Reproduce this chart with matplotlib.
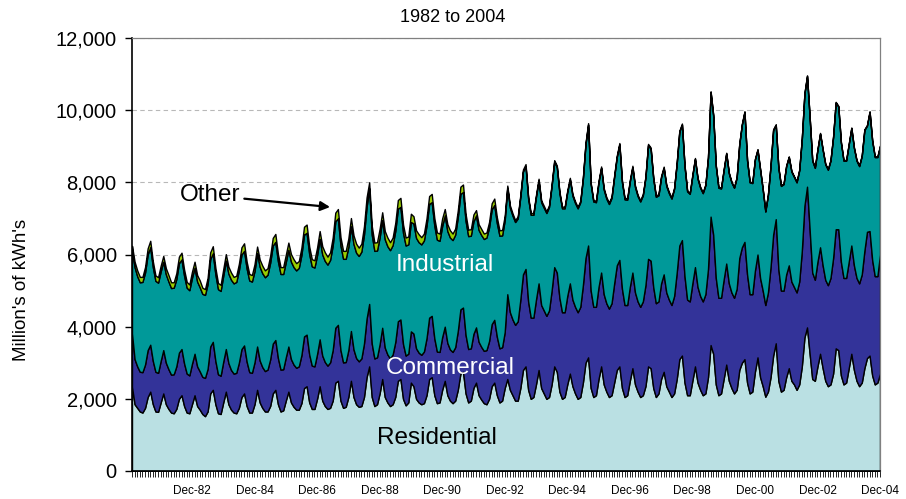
import numpy as np
import pandas as pd
import matplotlib
matplotlib.use("Agg")
import matplotlib.pyplot as plt
from matplotlib.ticker import FuncFormatter

plt.rcParams['font.family'] = ['Liberation Sans', 'DejaVu Sans']

# monthly sales, million kWh, Jan 1981 .. Dec 2004 (one row per year)
residential = [
    2330, 1850, 1750, 1650, 1620, 1750, 2050, 2200, 1850, 1650, 1640, 1900,
    2150, 1850, 1720, 1620, 1600, 1720, 2000, 2100, 1800, 1620, 1600, 1850,
    2100, 1800, 1700, 1580, 1520, 1650, 2150, 2250, 1850, 1600, 1580, 1900,
    2200, 1850, 1700, 1620, 1600, 1750, 2050, 2150, 1800, 1620, 1620, 1850,
    2250, 1900, 1750, 1650, 1650, 1800, 2150, 2250, 1850, 1650, 1680, 1950,
    2200, 1900, 1780, 1700, 1700, 1880, 2300, 2350, 1900, 1720, 1720, 2000,
    2350, 1950, 1800, 1720, 1750, 1950, 2450, 2500, 1950, 1750, 1780, 2050,
    2500, 2050, 1850, 1780, 1800, 2050, 2600, 2900, 2050, 1800, 1850, 2150,
    2550, 2050, 1900, 1800, 1850, 2050, 2500, 2550, 2000, 1820, 1900, 2450,
    2350, 2000, 1900, 1850, 1880, 2100, 2550, 2600, 2100, 1880, 1900, 2250,
    2500, 2100, 1950, 1880, 1950, 2250, 2700, 2750, 2150, 1900, 1950, 2300,
    2450, 2100, 1980, 1880, 1850, 2000, 2350, 2450, 2100, 1900, 1950, 2300,
    2550, 2250, 2100, 1950, 1950, 2300, 2800, 2900, 2250, 2000, 2050, 2400,
    2800, 2300, 2150, 2000, 2050, 2400, 2900, 2750, 2200, 2000, 2050, 2400,
    2700, 2350, 2150, 2000, 2050, 2450, 3000, 3150, 2300, 2050, 2100, 2550,
    2900, 2400, 2200, 2050, 2100, 2450, 2800, 2900, 2300, 2050, 2100, 2500,
    2850, 2400, 2200, 2050, 2100, 2350, 2900, 2850, 2300, 2050, 2150, 2550,
    2750, 2350, 2200, 2050, 2150, 2550, 3100, 3200, 2450, 2100, 2100, 2500,
    2900, 2450, 2250, 2100, 2150, 2600, 3490, 3250, 2400, 2100, 2150, 2550,
    2950, 2500, 2300, 2150, 2250, 2800, 3000, 3100, 2450, 2150, 2200, 2750,
    3150, 2600, 2350, 2060, 2200, 2600, 3200, 3540, 2500, 2200, 2250, 2600,
    2850, 2500, 2400, 2250, 2400, 2900, 3700, 3980, 3250, 2550, 2500, 2900,
    3250, 2850, 2500, 2350, 2400, 2700, 3400, 3350, 2650, 2400, 2450, 2850,
    3250, 2800, 2500, 2350, 2450, 2850, 3130, 3200, 2650, 2400, 2450, 2700,
]
commercial = [
    1480, 1250, 1150, 1100, 1120, 1200, 1300, 1300, 1200, 1100, 1080, 1150,
    1200, 1150, 1100, 1050, 1080, 1180, 1280, 1280, 1180, 1080, 1050, 1120,
    1150, 1100, 1060, 1030, 1060, 1180, 1300, 1330, 1200, 1080, 1060, 1130,
    1180, 1140, 1100, 1080, 1120, 1250, 1330, 1330, 1230, 1120, 1100, 1160,
    1200, 1160, 1130, 1120, 1160, 1290, 1380, 1380, 1280, 1160, 1140, 1200,
    1250, 1200, 1170, 1160, 1200, 1330, 1430, 1430, 1330, 1200, 1180, 1240,
    1300, 1250, 1220, 1200, 1260, 1400, 1520, 1550, 1400, 1260, 1240, 1300,
    1380, 1320, 1280, 1260, 1320, 1480, 1620, 1730, 1480, 1320, 1300, 1360,
    1420, 1370, 1330, 1320, 1380, 1520, 1650, 1650, 1520, 1380, 1350, 1420,
    1460, 1400, 1380, 1370, 1430, 1580, 1700, 1700, 1580, 1430, 1400, 1460,
    1500, 1450, 1420, 1420, 1480, 1630, 1780, 1780, 1620, 1480, 1450, 1500,
    1530, 1480, 1460, 1450, 1500, 1600, 1720, 1740, 1620, 1500, 1480, 1550,
    2350, 2150, 2100, 2100, 2200, 2450, 2650, 2700, 2450, 2250, 2200, 2350,
    2400, 2300, 2300, 2300, 2400, 2600, 2750, 2750, 2600, 2400, 2350, 2450,
    2500, 2400, 2400, 2400, 2500, 2700, 2900, 3100, 2700, 2500, 2450, 2550,
    2600, 2500, 2450, 2450, 2550, 2750, 2900, 2950, 2750, 2550, 2500, 2600,
    2650, 2550, 2500, 2500, 2600, 2800, 2980, 2980, 2800, 2600, 2550, 2650,
    2700, 2600, 2550, 2550, 2700, 2950, 3150, 3200, 2950, 2650, 2600, 2700,
    2750, 2650, 2600, 2600, 2750, 3000, 3560, 3300, 2950, 2700, 2650, 2750,
    2800, 2700, 2650, 2650, 2800, 3100, 3200, 3250, 3000, 2750, 2700, 2800,
    2850, 2750, 2650, 2540, 2750, 3050, 3350, 3440, 3100, 2800, 2750, 2850,
    2850, 2750, 2700, 2700, 2850, 3200, 3650, 3900, 3450, 2950, 2800, 2900,
    2950, 2850, 2800, 2800, 2950, 3200, 3300, 3350, 3150, 2950, 2900, 2950,
    3000, 2900, 2850, 2850, 3000, 3250, 3500, 3450, 3200, 3000, 2950, 3300,
]
industrial = [
    2300, 2550, 2500, 2480, 2500, 2550, 2650, 2700, 2600, 2520, 2500, 2480,
    2450, 2450, 2430, 2400, 2400, 2420, 2480, 2480, 2430, 2380, 2360, 2380,
    2380, 2350, 2330, 2300, 2300, 2350, 2420, 2450, 2400, 2360, 2350, 2380,
    2450, 2480, 2500, 2500, 2520, 2560, 2620, 2620, 2580, 2540, 2530, 2530,
    2580, 2600, 2600, 2600, 2630, 2680, 2720, 2720, 2680, 2650, 2640, 2640,
    2680, 2700, 2700, 2700, 2730, 2780, 2820, 2820, 2780, 2750, 2740, 2740,
    2780, 2800, 2800, 2800, 2840, 2900, 2950, 2950, 2900, 2870, 2860, 2860,
    2900, 2920, 2920, 2920, 2960, 3020, 3100, 3200, 3020, 2980, 2960, 2960,
    2980, 3000, 3000, 3000, 3030, 3080, 3120, 3120, 3080, 3050, 3030, 3030,
    3050, 3060, 3060, 3060, 3080, 3120, 3150, 3150, 3120, 3100, 3080, 3080,
    3080, 3100, 3100, 3100, 3120, 3160, 3200, 3200, 3160, 3130, 3120, 3120,
    3100, 3100, 3100, 3100, 3120, 3150, 3180, 3180, 3150, 3120, 3100, 3100,
    2950, 2900, 2880, 2850, 2850, 2850, 2850, 2850, 2850, 2850, 2850, 2850,
    2850, 2850, 2850, 2850, 2870, 2900, 2920, 2920, 2900, 2880, 2880, 2880,
    2880, 2880, 2880, 2880, 2900, 2950, 3150, 3350, 2950, 2920, 2900, 2900,
    2900, 2900, 2900, 2900, 2920, 2950, 3000, 3200, 2950, 2930, 2920, 2920,
    2920, 2920, 2920, 2920, 2940, 2980, 3150, 3100, 3000, 2950, 2940, 2940,
    2950, 2950, 2950, 2950, 2970, 3020, 3150, 3200, 3050, 3000, 2980, 2980,
    3000, 3000, 3000, 3000, 3020, 3080, 3450, 3300, 3100, 3050, 3030, 3030,
    3050, 3050, 3050, 3050, 3080, 3150, 3400, 3600, 3150, 3100, 3080, 3080,
    2900, 3000, 2800, 2590, 2700, 2800, 2900, 2610, 2800, 2900, 2950, 3000,
    3000, 3050, 3050, 3050, 3080, 3100, 3100, 3065, 3100, 3100, 3100, 3100,
    3150, 3200, 3200, 3200, 3250, 3350, 3510, 3400, 3300, 3250, 3250, 3250,
    3250, 3250, 3250, 3250, 3280, 3350, 2940, 3300, 3300, 3300, 3300, 3000,
]
other = [
    130, 150, 160, 150, 140, 150, 170, 180, 160, 150, 150, 160,
    160, 170, 180, 160, 150, 160, 180, 190, 170, 160, 160, 170,
    170, 180, 190, 170, 160, 170, 190, 200, 180, 170, 170, 180,
    180, 190, 200, 180, 170, 180, 200, 210, 190, 180, 180, 190,
    190, 200, 210, 190, 180, 190, 210, 220, 200, 190, 190, 200,
    200, 210, 220, 200, 190, 200, 220, 230, 210, 200, 200, 210,
    220, 230, 240, 220, 210, 220, 240, 260, 230, 220, 220, 230,
    230, 240, 250, 230, 220, 230, 260, 170, 240, 230, 230, 240,
    220, 230, 240, 220, 210, 220, 240, 250, 230, 220, 220, 230,
    200, 210, 220, 200, 190, 200, 220, 230, 210, 200, 200, 210,
    180, 190, 200, 180, 170, 180, 200, 210, 190, 180, 180, 190,
    150, 160, 170, 150, 140, 150, 170, 180, 160, 150, 150, 120,
    60, 60, 60, 55, 55, 55, 55, 55, 50, 50, 50, 50,
    50, 50, 50, 45, 45, 45, 45, 45, 45, 45, 45, 45,
    45, 45, 45, 40, 40, 40, 40, 40, 40, 40, 40, 40,
    40, 40, 40, 40, 40, 40, 40, 40, 40, 40, 40, 40,
    40, 40, 35, 35, 35, 35, 35, 35, 35, 35, 35, 35,
    35, 35, 35, 30, 30, 30, 30, 30, 30, 30, 30, 30,
    25, 25, 25, 25, 25, 25, 25, 25, 25, 25, 25, 25,
    20, 20, 20, 20, 20, 20, 20, 20, 20, 20, 20, 20,
    20, 20, 20, 20, 20, 20, 20, 20, 20, 20, 20, 20,
    20, 20, 20, 20, 20, 20, 20, 20, 20, 20, 20, 20,
    20, 20, 20, 20, 20, 20, 20, 20, 20, 20, 20, 20,
    20, 20, 20, 20, 20, 20, 20, 20, 20, 20, 20, 20,
]
series_names = ['Residential', 'Commercial', 'Industrial', 'Other']
colors = ['#BAE0E3', '#333399', '#009999', '#99CC00']

months = pd.date_range('1981-01-01', periods=len(residential), freq='MS')
x = np.arange(len(months))

fig = plt.figure(figsize=(9.06, 4.99), dpi=100)
ax = fig.add_axes([132 / 906, 28 / 499, 748 / 906, 433 / 499])

ax.yaxis.grid(True, ls=(0, (4, 3)), color='#b8b8b8', lw=0.8)
ax.set_axisbelow(True)

ax.stackplot(x, residential, commercial, industrial, other, colors=colors,
             edgecolor='black', linewidth=1.0, labels=series_names)

ax.set_xlim(0, len(x) - 1)
ax.set_ylim(0, 12000)
ax.set_yticks(range(0, 12001, 2000))
ax.yaxis.set_major_formatter(FuncFormatter(lambda v, p: '{:,.0f}'.format(v)))
ax.tick_params(axis='y', length=5, width=1, direction='out', labelsize=14.5, pad=6)

# every month gets a tick, every second December a label
dec_idx = [i for i, m in enumerate(months) if m.month == 12 and m.year % 2 == 0]
ax.set_xticks(dec_idx)
ax.set_xticklabels([months[i].strftime('Dec-%y') for i in dec_idx])
ax.set_xticks(x, minor=True)
ax.tick_params(axis='x', which='both', length=4, width=0.6, direction='out',
               labelsize=8.5, pad=6)

for s in ['left', 'bottom']:
    ax.spines[s].set_color('black')
    ax.spines[s].set_linewidth(1.2)
for s in ['top', 'right']:
    ax.spines[s].set_color('#808080')
    ax.spines[s].set_linewidth(0.9)

ax.text(120, 5710, 'Industrial', color='white', fontsize=17.5, ha='center', va='center')
ax.text(122, 2855, 'Commercial', color='white', fontsize=17.5, ha='center', va='center')
ax.text(117, 915, 'Residential', color='black', fontsize=17.5, ha='center', va='center')
ax.annotate('Other', xy=(76, 7315), xytext=(41.5, 7640), fontsize=17.5,
            ha='right', va='center',
            arrowprops=dict(arrowstyle='-|>', color='black', lw=1.6,
                            mutation_scale=14, shrinkA=1, shrinkB=0))

fig.text(453 / 906, 1 - 17 / 499, '1982 to 2004', ha='center', va='center', fontsize=13)
fig.text(22 / 906, 1 - 290 / 499, "Million's of kWh's", ha='center', va='center',
         rotation=90, fontsize=13.5)

fig.savefig('out.png', dpi=100)
